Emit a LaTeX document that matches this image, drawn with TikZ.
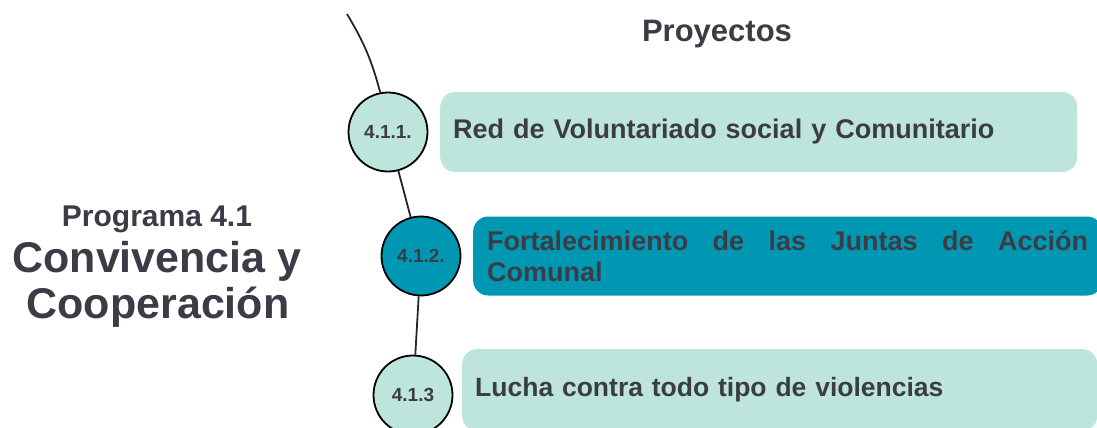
\documentclass[tikz,border=0pt]{standalone}
\usepackage{fontspec}
\setmainfont{Liberation Sans}
\usetikzlibrary{positioning}
\definecolor{menta}{HTML}{BDE5DC}
\definecolor{turquesa}{HTML}{0097B2}
\definecolor{tinta}{HTML}{3C3C46}
\begin{document}
\begin{tikzpicture}[x=1pt, y=-1pt,
    hito/.style={circle, draw=black, line width=1.8pt, minimum size=79pt, inner sep=0pt, font=\fontsize{19}{21}\selectfont\bfseries, text=tinta},
    proy/.style={rounded corners=15pt, anchor=west, align=left, inner xsep=13pt, font=\fontsize{27}{31}\selectfont\bfseries, text=tinta},
    enlace/.style={line width=1.8pt, draw=black!85}
]
\useasboundingbox (0,0) rectangle (1097,428);
\clip (0,0) rectangle (1097,428);
\node[anchor=base, font=\fontsize{31}{34}\selectfont\bfseries, text=tinta] (titulo) at (717,42) {Proyectos};
\node[anchor=base, font=\fontsize{30}{33}\selectfont\bfseries, text=tinta] (prog) at (157,226) {Programa 4.1};
\node[anchor=base, font=\fontsize{43}{46}\selectfont\bfseries, text=tinta] (nombre1) at (157,272) {Convivencia y};
\node[anchor=base, font=\fontsize{43}{46}\selectfont\bfseries, text=tinta] (nombre2) at (158,318) {Cooperación};

\node[proy, fill=menta, minimum width=637pt, minimum height=80pt, text width=611pt] (b1) at (440,132) {Red de Voluntariado social y Comunitario};
\node[proy, fill=turquesa, minimum width=629pt, minimum height=79pt, text width=601pt, inner xsep=14pt, align=justify] (b2) at (473,256) {Fortalecimiento de las Juntas de Acción\linebreak Comunal};
\node[proy, fill=menta, minimum width=635pt, minimum height=82pt, text width=609pt, font=\fontsize{26.5}{31}\selectfont\bfseries] (b3) at (462,390) {Lucha contra todo tipo de violencias};

\node[hito, fill=menta] (c1) at (388,132) {4.1.1.};
\node[hito, fill=turquesa] (c2) at (421,256) {4.1.2.};
\node[hito, fill=menta] (c3) at (413,395) {4.1.3};
\coordinate (inicio) at (347,14);

\draw[enlace] (inicio) to[bend left=8] (c1);
\draw[enlace] (c1) -- (c2);
\draw[enlace] (c2) -- (c3);
\end{tikzpicture}
\end{document}
